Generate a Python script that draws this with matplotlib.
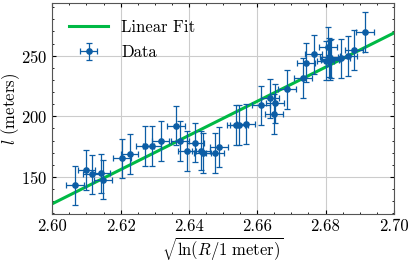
import matplotlib

matplotlib.use("Agg")
import matplotlib.pyplot as plt
import numpy as np
from matplotlib.ticker import MultipleLocator

# ── data ──────────────────────────────────────────────────────────────
x_data = [2.6066, 2.6100, 2.6117, 2.6142, 2.6149, 2.6204, 2.6226, 2.6272,
          2.6292, 2.6317, 2.6362, 2.6374, 2.6395, 2.6419, 2.6436, 2.6440,
          2.6476, 2.6489, 2.6538, 2.6546, 2.6567, 2.6611, 2.6637, 2.6648,
          2.6652, 2.6686, 2.6734, 2.6743, 2.6765, 2.6800, 2.6807, 2.6810,
          2.6814, 2.6817, 2.6845, 2.6867, 2.6884, 2.6916]
y_data = [143.2, 156.0, 152.2, 153.0, 147.8, 165.4, 169.2, 175.8,
          175.8, 179.9, 192.3, 179.9, 171.4, 178.3, 171.7, 170.0,
          170.0, 174.7, 192.8, 193.1, 193.9, 209.1, 214.8, 201.9,
          210.7, 222.2, 231.8, 244.2, 251.1, 246.0, 257.4, 248.6,
          246.4, 247.5, 247.8, 249.7, 254.6, 269.4]
x_err = [0.0026] * len(x_data)
y_err = [16.3] * len(y_data)

# linear fit
fit_x = [2.60, 2.70]
fit_intercept = 128.0  # value at x = 2.60
fit_slope = 1407.0

BLUE = "#0C5DA5"
GREEN = "#00B945"

plt.rcParams.update({
    "font.family": "serif",
    "font.serif": ["cmr10"],
    "mathtext.fontset": "cm",
    "axes.formatter.use_mathtext": True,
    "font.size": 12,
    "xtick.direction": "in",
    "ytick.direction": "in",
    "xtick.top": True,
    "ytick.right": True,
    "xtick.major.size": 3,
    "ytick.major.size": 3,
    "xtick.minor.size": 1.5,
    "ytick.minor.size": 1.5,
    "xtick.minor.visible": True,
    "ytick.minor.visible": True,
    "axes.edgecolor": "#555555",
    "axes.linewidth": 0.8,
})

fig = plt.figure(figsize=(4.12, 2.62), dpi=100)
ax = fig.add_axes([0.127, 0.183, 0.829, 0.806])

fx = np.array(fit_x)
ax.plot(fx, fit_intercept + fit_slope * (fx - fit_x[0]), color=GREEN,
        lw=2.2, label="Linear Fit", zorder=2)
ax.errorbar(x_data, y_data, xerr=x_err, yerr=y_err, fmt="o", color=BLUE,
            ms=3.8, elinewidth=0.9, capsize=2, capthick=0.9,
            label="Data", zorder=3)

ax.set_xlim(2.60, 2.70)
ax.set_ylim(119.5, 293.5)
ax.xaxis.set_major_locator(MultipleLocator(0.02))
ax.xaxis.set_minor_locator(MultipleLocator(0.005))
ax.yaxis.set_major_locator(MultipleLocator(50))
ax.yaxis.set_minor_locator(MultipleLocator(10))
ax.xaxis.set_major_formatter(matplotlib.ticker.FormatStrFormatter("%.2f"))
ax.grid(True, which="major", color="#cccccc", lw=0.8)
ax.set_axisbelow(True)

ax.set_xlabel(r"$\sqrt{\ln(R/1\ \mathrm{meter})}$", labelpad=1)
ax.set_ylabel(r"$l$ (meters)")
ax.yaxis.set_label_coords(-0.09, 0.5)
ax.legend(loc="upper left", frameon=False, handlelength=2.35,
          labelspacing=0.6, borderaxespad=0.6)

plt.savefig("out.png", dpi=100)
plt.close()
